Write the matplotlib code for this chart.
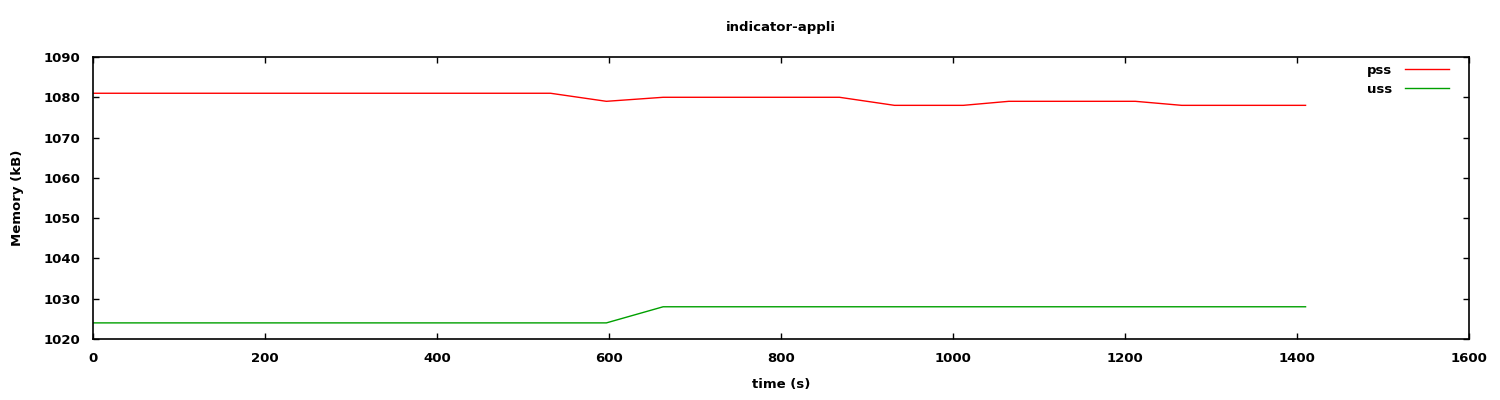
import matplotlib
matplotlib.use("Agg")
import matplotlib.pyplot as plt

title = "indicator-appli"
pss_t = [0, 532, 597, 663, 868, 932, 1012, 1065, 1212, 1266, 1410]
pss_v = [1081, 1081, 1079, 1080, 1080, 1078, 1078, 1079, 1079, 1078, 1078]
uss_t = [0, 597, 663, 1410]
uss_v = [1024, 1024, 1028, 1028]
xticks = list(range(0, 1601, 200))
yticks = list(range(1020, 1091, 10))

plt.rcParams['font.family'] = ['DejaVu Sans']
fig = plt.figure(figsize=(15, 4), dpi=100)
ax = fig.add_axes([0.062, 0.1525, 0.9173, 0.705])
ax.plot(pss_t, pss_v, color='#ff0000', lw=1.0, label='pss')
ax.plot(uss_t, uss_v, color='#00a000', lw=1.0, label='uss')
ax.set_xlim(0, 1600)
ax.set_ylim(1020, 1090)
ax.set_xticks(xticks)
ax.set_yticks(yticks)
ax.tick_params(direction='in', length=4, width=1, top=True, right=True,
               labelsize=9.5, pad=9)
for lab in ax.get_xticklabels() + ax.get_yticklabels():
    lab.set_fontweight('bold')
for s in ax.spines.values():
    s.set_linewidth(1.2)
ax.set_title(title, fontsize=9.5, pad=19, fontweight='bold')
ax.set_xlabel('time (s)', fontsize=9.5, labelpad=10, fontweight='bold')
ax.set_ylabel('Memory (kB)', fontsize=9.5, labelpad=14, fontweight='bold')
leg = ax.legend(loc='upper right', frameon=False, markerfirst=False,
                fontsize=9.5, handlelength=3.3, bbox_to_anchor=(0.994, 1.017),
                labelspacing=0.45, handletextpad=1.0)
for t in leg.get_texts():
    t.set_fontweight('bold')
fig.savefig('out.png', dpi=100)
